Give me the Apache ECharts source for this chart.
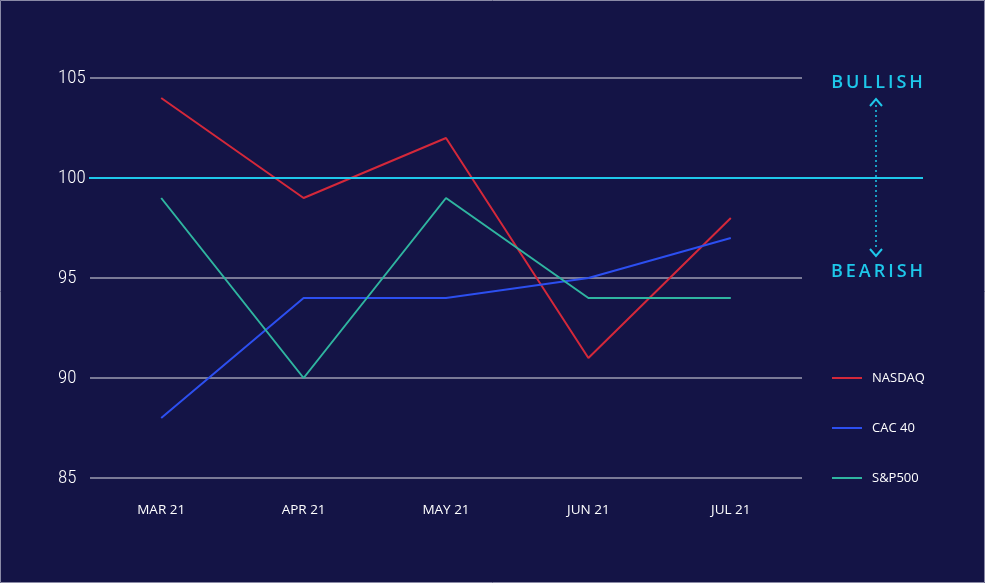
<!DOCTYPE html>
<html><head><meta charset="utf-8">
<script src="https://cdn.jsdelivr.net/npm/echarts@6/dist/echarts.min.js"></script>
<style>html,body{margin:0;padding:0;background:#141446;}#c{width:985px;height:583px;}</style>
</head><body><div id="c"></div>
<script>
const categories = ['MAR 21', 'APR 21', 'MAY 21', 'JUN 21', 'JUL 21'];
const nasdaq = [104, 99, 102, 91, 98];
const cac40 = [88, 94, 94, 95, 97];
const sp500 = [99, 90, 99, 94, 94];
const referenceLevel = 100;
const yTicks = [85, 90, 95, 100, 105];

const chart = echarts.init(document.getElementById('c'));
const mk = (name, data, color) => ({
  name, type: 'line', data, symbol: 'none', smooth: false,
  lineStyle: { color, width: 2 }, itemStyle: { color }
});
chart.setOption({
  backgroundColor: '#141446',
  animation: false,
  grid: { left: 90, right: 183, top: 78, bottom: 105 },
  legend: {
    orient: 'vertical', left: 832, top: 370, itemGap: 34, padding: 0,
    itemWidth: 30, itemHeight: 2, icon: 'rect',
    textStyle: { color: '#ffffff', fontFamily: 'Open Sans', fontSize: 13, lineHeight: 16, padding: [0, 0, 0, 5] },
    data: ['NASDAQ', 'CAC 40', 'S&P500']
  },
  xAxis: {
    type: 'category', data: categories, boundaryGap: true,
    axisLine: { show: false }, axisTick: { show: false },
    axisLabel: { color: '#ffffff', fontFamily: 'Open Sans', fontSize: 13.5, margin: 25 }
  },
  yAxis: {
    type: 'value', min: yTicks[0], max: yTicks[yTicks.length - 1], interval: 5,
    axisLine: { show: false }, axisTick: { show: false },
    splitLine: { lineStyle: { color: '#9c9cb2', width: 1.5 } },
    axisLabel: { color: '#ffffff', fontFamily: '"Roboto Condensed", "Noto Sans Condensed", "Liberation Sans Narrow", "Open Sans Condensed", Roboto', fontSize: 19, fontWeight: 300, align: 'left', margin: 32 }
  },
  series: [
    mk('NASDAQ', nasdaq, '#d4283a'),
    mk('CAC 40', cac40, '#2c4ff0'),
    mk('S&P500', sp500, '#2fb5a0')
  ]
});

const y100 = chart.convertToPixel({ yAxisIndex: 0 }, referenceLevel);
const yTop = chart.convertToPixel({ yAxisIndex: 0 }, yTicks[yTicks.length - 1]);
const yBear = chart.convertToPixel({ yAxisIndex: 0 }, 95);
const cyan = '#1ec8ea';
const ax = 876;
const sp = '\u2009';
chart.setOption({
  graphic: [
    { type: 'rect', shape: { x: 0.5, y: 0.5, width: 984, height: 582 }, style: { fill: 'none', stroke: '#8a8aa6', lineWidth: 1 }, z: 100 },
    { type: 'line', shape: { x1: 89, y1: y100, x2: 923, y2: y100 }, style: { stroke: cyan, lineWidth: 2 }, z: 10 },
    { type: 'line', shape: { x1: ax, y1: yTop + 27, x2: ax, y2: yBear - 28 }, style: { stroke: cyan, lineWidth: 1.5, lineDash: [2, 3] }, z: 10 },
    { type: 'polyline', shape: { points: [[ax - 6, yTop + 28], [ax, yTop + 21], [ax + 6, yTop + 28]] }, style: { stroke: cyan, lineWidth: 2, fill: 'none' }, z: 10 },
    { type: 'polyline', shape: { points: [[ax - 6, yBear - 29], [ax, yBear - 22], [ax + 6, yBear - 29]] }, style: { stroke: cyan, lineWidth: 2, fill: 'none' }, z: 10 },
    { type: 'text', x: 877, y: yTop + 5, style: { text: 'BULLISH'.split('').join(sp), fill: cyan, font: '600 18px "Open Sans"', align: 'center', verticalAlign: 'middle' }, z: 10 },
    { type: 'text', x: 877, y: yBear - 6, style: { text: 'BEARISH'.split('').join(sp), fill: cyan, font: '600 18px "Open Sans"', align: 'center', verticalAlign: 'middle' }, z: 10 }
  ]
});
</script></body></html>
